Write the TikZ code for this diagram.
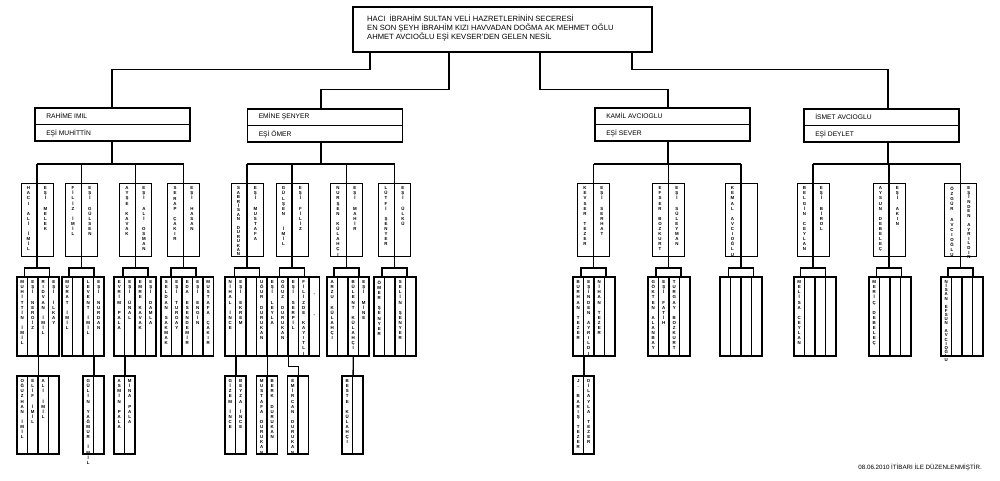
\documentclass[tikz,border=0pt]{standalone}
\usepackage{fontspec}
\setmainfont{Liberation Sans}
\usetikzlibrary{positioning,calc}

% letters stacked one under the other
\def\vtsp{5.1pt}
\makeatletter
\newcommand\vtext[1]{\vbox{\baselineskip=\vtsp\relax\lineskiplimit=-\maxdimen
  \@tfor\vt@c:=#1\do{\hbox to 0pt{\hss\vt@c\hss}}}}
\makeatother

\tikzset{
  ttlbox/.style={draw, line width=2.4pt, minimum width=299, minimum height=45, inner sep=0pt},
  ttltxt/.style={font=\fontsize{7.6}{8.6}\selectfont, align=left, inner sep=0pt},
  fambox/.style={draw, line width=1.9pt, minimum width=155, minimum height=33, inner sep=0pt},
  famtxt/.style={font=\fontsize{6.7}{8}\selectfont, inner sep=0pt},
  pairbox/.style={draw, line width=0.9pt, minimum width=32, minimum height=73, inner sep=0pt},
  linkbox/.style={draw, line width=1.2pt, minimum width=25, minimum height=9, inner sep=0pt},
  kidcol/.style={draw, line width=1.2pt, minimum width=10.5, inner sep=0pt},
  vname/.style={font=\fontsize{4.4}{5}\selectfont\bfseries, inner sep=0pt},
  wire/.style={line width=1.3pt},
  foot/.style={font=\fontsize{6.2}{7}\selectfont, inner sep=0pt}
}

% a couple: box with two stacked names
\NewDocumentCommand\couple{O{5.1pt} O{5.1pt} m m m m}{%
  \node[pairbox] (#3) at (#4,219.5) {};
  \def\vtsp{#1}%
  \node[vname, below=4pt of #3.north west, xshift=8pt] (#3-l) {\vtext{#5}};
  \def\vtsp{#2}%
  \node[vname, below=4pt of #3.north east, xshift=-8pt] (#3-r) {\vtext{#6}};
}

% a row of children columns
\newcommand\kidbox[6][5.1pt]{%
  \def\vtsp{#1}%
  \foreach \nm [count=\i] in {#6} {
    \node[kidcol, minimum height=#5] (#2-\i) at ({#3+(\i-0.5)*10.5},{#4+#5/2}) {};
    \node[vname, below=4pt of #2-\i.north] (#2-\i-t) {\expandafter\vtext\expandafter{\nm}};
  }}

\begin{document}
\begin{tikzpicture}[x=1pt,y=-1pt]
\useasboundingbox (0,0) rectangle (1000,480);

% title
\node[ttlbox] (title) at (502.5,29.5) {};
\node[ttltxt, anchor=west] (titletxt) at (367,28) {HACI\ \ İBRAHİM SULTAN VELİ HAZRETLERİNİN SECERESİ\\EN SON ŞEYH İBRAHİM KIZI HAVVADAN DOĞMA AK MEHMET OĞLU\\AHMET AVCIOĞLU EŞİ KEVSER'DEN GELEN NESİL};

% first generation
\foreach \nm/\x/\y/\a/\b in {rahime/112.5/124.5/RAHİME IMIL/EŞİ MUHİTTİN,
    emine/325/125.5/EMİNE ŞENYER/EŞİ ÖMER,
    kamil/672.5/124.5/KAMİL AVCIOGLU/EŞİ SEVER,
    ismet/881.5/125.5/İSMET AVCIOGLU/EŞİ DEYLET} {
  \node[fambox] (\nm) at (\x,\y) {};
  \draw[line width=1.9pt] (\nm.west) -- (\nm.east);
  \node[famtxt, anchor=west, xshift=12pt] (\nm-a) at ($(\nm.north west)!.25!(\nm.south west)$) {\a};
  \node[famtxt, anchor=west, xshift=12pt] (\nm-b) at ($(\nm.north west)!.75!(\nm.south west)$) {\b};
}

\coordinate (bus1) at (112,164);
\coordinate (bus2) at (321,164);
\coordinate (bus3) at (668,164);
\coordinate (bus4) at (888,164);

% second generation
\couple{c11}{37}{HACI~ALİ~İMİL}{EŞİ~MELEK}
\couple{c12}{81.5}{FİLİZ~İMİL}{EŞİ~GÜLSEN}
\couple{c13}{135.5}{AYŞE~KAVAK}{EŞİ~ALİ~OSMAN}
\couple{c14}{183.5}{SERAP~ÇAKIR}{EŞİ~HASAN}
\couple[4.4pt]{c21}{247}{SABRİSAN~DURUKAN}{EŞİ~MUSTAFA}
\couple{c22}{292}{GÜLŞEN~~İMİL}{EŞİ~FİLİZ}
\couple{c23}{346.5}{NURŞEN~KÜLAHÇI}{EŞİ~MAHİR}
\couple{c24}{394.5}{LÜTFİ~ŞENYER}{EŞİ~ÜLKÜ}
\couple{c31}{593.5}{KEVSER~TEZER}{EŞİ~SERHAT}
\couple{c32}{668.5}{EFSER~BOZKURT}{EŞİ~SÜLEYMAN}
\couple{c33}{741}{KEMAL~AVCIOĞLU}{~}
\couple{c41}{813}{BELGİN~CEYLAN}{EŞİ~BİROL}
\couple{c42}{889}{AYSUN~DEBELEÇ}{EŞİ~AKIN}
\couple[5.1pt][4.6pt]{c43}{960.5}{ÖZGÜR~AVCIOĞLU}{EŞİNDEN~AYRILDIN}

% link boxes
\foreach \l/\x in {l11/37, l12/81.5, l13/135.5, l14/183.5, lA/247, lB/292, l23/346.5, l24/394.5,
    l31/593.5, l32/668.5, l33/741, l41/813, l42/889, l43/960.5}
  \node[linkbox] (\l) at (\x,272.5) {};

% third generation
\kidbox{g11}{17}{277}{79}{MUHİTTİN~İMİL, EŞİ~NERGİZ, RIDVAN~İMİL, EŞİ~İLKAY}
\kidbox{g12}{62}{277}{79}{MURAT~İMİL, ~, LEVENT~İMİL, EŞİ~NURDAN}
\kidbox{g13}{114}{277}{79}{EVRİM~PALA, EŞİ~ÜNAL, EMRE~KAVAK, EŞİ~DAMLA}
\kidbox{g14}{161}{277}{79}{SELDAN~SAKMAK, EŞİ~TURGAY, EDA~ESENDEMİR, EŞİ~ENGİN, MUSTAFA~ÇAKIR}
\kidbox{gA}{225}{277}{79}{NİHAL~İNCE, EŞİ~EKREM, ~, UĞUR~DURUKAN}
\kidbox{gB}{267}{277}{79}{EŞİ~LEYLA, OĞUZ~DURUKAN, EŞİ~SERPİL, FİLİZDE~KAYITLI, ~~~-~~~-}
\kidbox{g23}{327}{277}{79}{ARZU~KÜLAHÇI, ~, BÜLENT~KÜLAHÇI, EŞİ~MİNE}
\kidbox{g24}{374}{277}{79}{ÖMER~ŞENYER, ~, SELİN~ŞENYER, ~}
\kidbox{g31}{573}{277}{79}{BURHAN~TEZER, EŞİNDEN~AYRILDI, NİHAN~TEZER, ~}
\kidbox{g32}{648}{277}{79}{GÖKTEN~ALANBAY, EŞİ~FATİH, TURGAY~BOZKURT, ~}
\kidbox{g33}{720}{277}{79}{~, ~, ~, ~}
\kidbox{g41}{794}{277}{79}{MELİSA~CEYLAN, ~, ~, ~}
\kidbox{g42}{869}{277}{79}{MERİÇ~DEBELEÇ, ~, ~, ~}
\kidbox[4.1pt]{g43}{941}{277}{79}{NİSAN~EFSUN~AVCIOĞLU, ~, ~, ~}

% fourth generation
\kidbox{h11}{17}{376}{78}{OĞUZHAN~İMİL, ELİF~İMİL, ALİ~İMİL, ~}
\kidbox{h12}{83}{376}{78}{GÜLİN~YAĞMUR~İMİL, ~}
\kidbox{h13}{114}{376}{78}{ASMİN~PALA, MİNA~PALA}
\kidbox{hA1}{225}{376}{78}{GİZEM~İNCE, BEYZA~İNCE}
\kidbox{hA2}{256.5}{376}{78}{MUSTAFA~DURUKAN, BERK~DURUKAN}
\kidbox{hB}{287.5}{376}{78}{EMİRCAN~DURUKAN, ~}
\kidbox{h23}{342}{376}{78}{BESTE~KÜLAHÇI, ~}
\kidbox{h31}{573}{376}{78}{J.~BARIŞ~TEZER, DİLAYLA~TEZER}

% connectors
\draw[wire] (title.south -| 370,0) -- ++(0,16) -| (rahime.north -| bus1);
\draw[wire] (title.south -| 449,0) -- ++(0,36) -| (emine.north -| bus2);
\draw[wire] (title.south -| 540,0) -- ++(0,36) -| (kamil.north -| bus3);
\draw[wire] (title.south -| 632,0) -- ++(0,16) -| (ismet.north -| bus4);

\foreach \f/\b/\l/\r in {rahime/bus1/c11/c14, emine/bus2/c21/c24, kamil/bus3/c31/c33, ismet/bus4/c41/c43} {
  \draw[wire] (\f.south -| \b) -- (\b);
  \draw[wire] (\l.north |- \b) -- (\r.north |- \b);
}
\foreach \c/\b/\l in {c11/bus1/l11, c12/bus1/l12, c13/bus1/l13, c14/bus1/l14,
    c21/bus2/lA, c22/bus2/lB, c23/bus2/l23, c24/bus2/l24,
    c31/bus3/l31, c32/bus3/l32, c33/bus3/l33,
    c41/bus4/l41, c42/bus4/l42, c43/bus4/l43}
  \draw[wire] (\c.north |- \b) -- (\l.north);

\draw[wire] (g11-2.south east) -- (h11-2.north east);
\draw[wire] (g12-3.south east) -- (h12-1.north east);
\draw[wire] (g13-1.south east) -- (h13-1.north east);
\draw[wire] (gA-1.south east) -- (hA1-1.north east);
\draw[wire] (gA-4.south east) -- (hA2-1.north east);
\draw[wire] (gB-2.south east) -- ++(0,10) -| (hB-1.north east);
\draw[wire] (g23-3.south) -- (h23-1.north east);
\draw[wire] (g31-1.south east) -- (h31-1.north east);

\node[foot, anchor=east] (note) at (982,467) {08.06.2010 İTİBARI İLE DÜZENLENMİŞTİR.};
\end{tikzpicture}
\end{document}
